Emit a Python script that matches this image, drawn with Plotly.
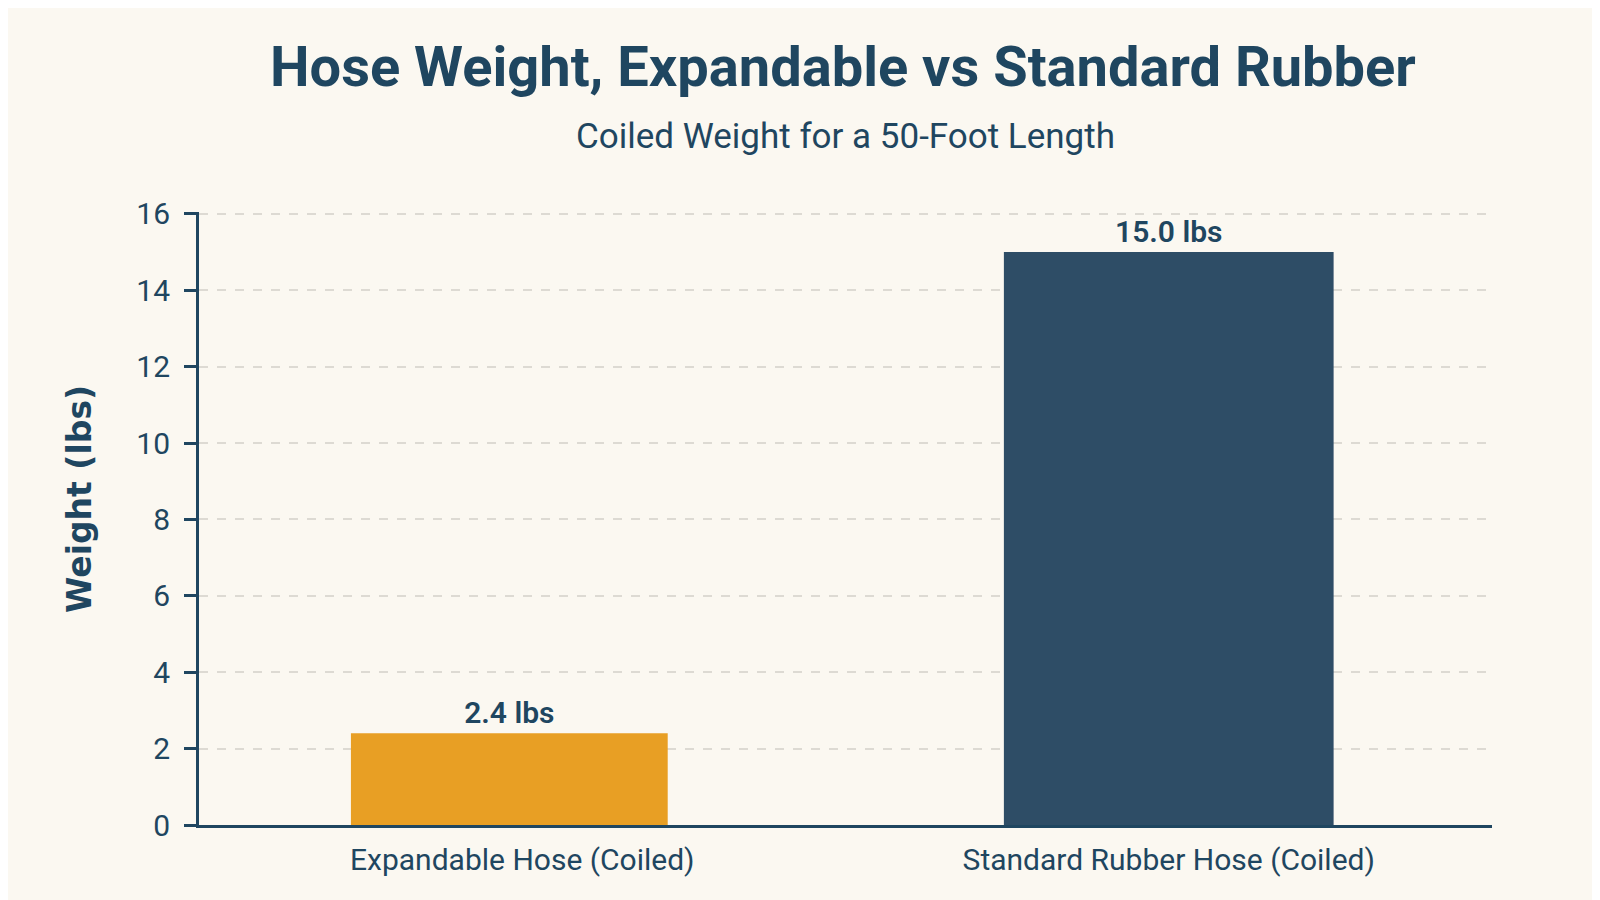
import plotly.graph_objects as go

hoses = ["Expandable Hose (Coiled)", "Standard Rubber Hose (Coiled)"]
weights = [2.4, 15.0]
labels = ["2.4 lbs", "15.0 lbs"]
bar_colors = ["#E89F24", "#2E4D66"]
y_ticks = [0, 2, 4, 6, 8, 10, 12, 14, 16]

navy = "#1F4660"
font = "Roboto, sans-serif"

fig = go.Figure()
fig.add_trace(go.Bar(
    x=hoses, y=weights, text=labels, textposition="outside",
    marker=dict(color=bar_colors, line=dict(width=0)),
    width=[0.49, 0.51], offset=[-0.265, -0.255], cliponaxis=False,
    textfont=dict(family=font, size=30, color=navy, weight=600),
))

fig.update_layout(
    width=1600, height=900,
    paper_bgcolor="#FBF8F1", plot_bgcolor="#FBF8F1",
    margin=dict(l=191, r=116, t=204, b=83),
    showlegend=False,
    font=dict(family=font, color=navy),
    annotations=[
        dict(text="<b>Hose Weight, Expandable vs Standard Rubber</b>",
             xref="paper", yref="paper", x=0.498, y=1.237,
             xanchor="center", yanchor="middle", showarrow=False,
             font=dict(size=56, color=navy, family=font)),
        dict(text="Coiled Weight for a 50-Foot Length",
             xref="paper", yref="paper", x=0.5, y=1.123,
             xanchor="center", yanchor="middle", showarrow=False,
             font=dict(size=35, color=navy, family=font)),
        # y axis title placed by hand to sit a little above centre, as in the source
        dict(text="<b>Weight (lbs)</b>", textangle=-90,
             xref="paper", yref="paper", x=-0.092, y=0.532,
             xanchor="center", yanchor="middle", showarrow=False,
             font=dict(size=33, color=navy, family="DejaVu Sans, sans-serif")),
    ],
)

fig.update_yaxes(
    range=[0, 16.05], tickvals=y_ticks,
    showgrid=True, gridcolor="#DDDAD3", griddash="dash", gridwidth=1.5,
    showline=True, linecolor=navy, linewidth=3,
    ticks="outside", ticklen=12, tickwidth=3, tickcolor=navy,
    ticklabelstandoff=8,
    tickfont=dict(size=30, color=navy, family=font),
    zeroline=False,
)
fig.update_xaxes(
    showline=True, linecolor=navy, linewidth=3,
    tickfont=dict(size=30, color=navy, family=font),
    ticklabelstandoff=6,
    ticks="", showgrid=False,
)

fig.write_html("out.html")
